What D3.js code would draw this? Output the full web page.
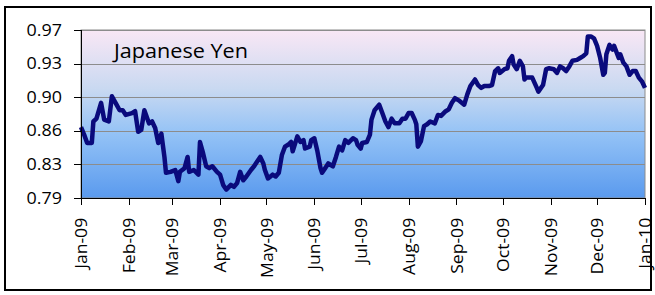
<html>
<script src="https://d3js.org/d3.v7.min.js"></script>
<style>
body { margin: 0; background: #fff; }
.grid line { stroke: #8c8c8c; stroke-width: 1px; shape-rendering: crispEdges; }
.grid path { stroke-width: 0; }
.axis text { font-family: "Open Sans"; font-size: 16px; fill: #000; }
.axis path, .axis line { stroke: #000; shape-rendering: crispEdges; }
.line { fill: none; stroke: #0a0a7c; stroke-width: 4.5px; stroke-linejoin: round; }
</style>
<body>
<div id="chart"></div>
<script>

// the data
var dates = [
  "2009-01-01","2009-01-03","2009-01-05","2009-01-08","2009-01-09","2009-01-11","2009-01-14","2009-01-16","2009-01-19","2009-01-21",
  "2009-01-24","2009-01-26","2009-01-28","2009-01-30","2009-02-03","2009-02-05","2009-02-07","2009-02-09","2009-02-11","2009-02-14",
  "2009-02-16","2009-02-18","2009-02-20","2009-02-22","2009-02-24","2009-02-25","2009-02-28","2009-03-03","2009-03-05","2009-03-06",
  "2009-03-09","2009-03-11","2009-03-12","2009-03-15","2009-03-18","2009-03-19","2009-03-21","2009-03-23","2009-03-25","2009-03-27",
  "2009-03-30","2009-04-01","2009-04-03","2009-04-05","2009-04-08","2009-04-10","2009-04-12","2009-04-14","2009-04-16","2009-04-18",
  "2009-04-21","2009-04-23","2009-04-25","2009-04-27","2009-04-29","2009-04-30","2009-05-02","2009-05-05","2009-05-07","2009-05-09",
  "2009-05-11","2009-05-13","2009-05-15","2009-05-17","2009-05-18","2009-05-21","2009-05-23","2009-05-25","2009-05-26","2009-05-29",
  "2009-05-30","2009-06-01","2009-06-03","2009-06-05","2009-06-06","2009-06-08","2009-06-10","2009-06-13","2009-06-15","2009-06-17",
  "2009-06-19","2009-06-21","2009-06-23","2009-06-26","2009-06-28","2009-06-29","2009-07-01","2009-07-02","2009-07-05","2009-07-07",
  "2009-07-08","2009-07-10","2009-07-13","2009-07-15","2009-07-17","2009-07-19","2009-07-21","2009-07-23","2009-07-26","2009-07-28",
  "2009-07-30","2009-08-01","2009-08-03","2009-08-05","2009-08-06","2009-08-07","2009-08-09","2009-08-11","2009-08-13","2009-08-15",
  "2009-08-18","2009-08-20","2009-08-22","2009-08-25","2009-08-27","2009-08-29","2009-08-31","2009-09-03","2009-09-06","2009-09-08",
  "2009-09-10","2009-09-13","2009-09-15","2009-09-17","2009-09-19","2009-09-22","2009-09-24","2009-09-26","2009-09-28","2009-09-29",
  "2009-10-02","2009-10-04","2009-10-05","2009-10-07","2009-10-08","2009-10-10","2009-10-12","2009-10-14","2009-10-15","2009-10-16",
  "2009-10-18","2009-10-20","2009-10-23","2009-10-24","2009-10-27","2009-10-29","2009-10-31","2009-11-03","2009-11-05","2009-11-07",
  "2009-11-09","2009-11-11","2009-11-13","2009-11-15","2009-11-18","2009-11-20","2009-11-22","2009-11-24","2009-11-25","2009-11-27",
  "2009-11-29","2009-12-01","2009-12-03","2009-12-05","2009-12-06","2009-12-07","2009-12-09","2009-12-11","2009-12-12","2009-12-15",
  "2009-12-16","2009-12-18","2009-12-20","2009-12-22","2009-12-24","2009-12-26","2009-12-28","2009-12-30","2010-01-01"
];
var yen = [
  0.866,0.858,0.849,0.849,0.872,0.875,0.892,0.874,0.872,0.899,
  0.890,0.884,0.884,0.879,0.881,0.883,0.861,0.863,0.884,0.870,
  0.872,0.865,0.849,0.859,0.834,0.817,0.818,0.820,0.808,0.818,
  0.822,0.834,0.818,0.820,0.815,0.850,0.838,0.824,0.822,0.824,
  0.818,0.815,0.804,0.799,0.804,0.802,0.806,0.818,0.809,0.813,
  0.820,0.824,0.829,0.834,0.827,0.820,0.811,0.815,0.813,0.817,
  0.836,0.845,0.847,0.850,0.840,0.856,0.850,0.852,0.843,0.845,
  0.852,0.854,0.840,0.822,0.817,0.822,0.827,0.824,0.834,0.845,
  0.841,0.852,0.849,0.854,0.852,0.847,0.843,0.849,0.850,0.858,
  0.874,0.884,0.890,0.881,0.872,0.866,0.875,0.870,0.870,0.875,
  0.875,0.881,0.881,0.874,0.869,0.845,0.851,0.867,0.869,0.872,
  0.870,0.879,0.878,0.883,0.885,0.892,0.897,0.894,0.890,0.901,
  0.910,0.917,0.911,0.908,0.910,0.910,0.911,0.926,0.929,0.924,
  0.928,0.929,0.937,0.942,0.933,0.928,0.937,0.931,0.917,0.919,
  0.919,0.919,0.908,0.904,0.911,0.928,0.929,0.928,0.924,0.931,
  0.929,0.926,0.931,0.937,0.938,0.940,0.942,0.945,0.963,0.963,
  0.961,0.953,0.940,0.922,0.924,0.944,0.954,0.949,0.953,0.940,
  0.944,0.935,0.931,0.922,0.926,0.926,0.919,0.915,0.908
];
var yTicks = [0.79, 0.826, 0.862, 0.898, 0.934, 0.97];
var yTickLabels = ["0.79", "0.83", "0.86", "0.90", "0.93", "0.97"];
var xStart = "2009-01-01", xEnd = "2010-01-01";
var title = "Japanese Yen";

// set the dimensions of the graph
var W = 655, H = 295;
var plotLeft = 81, plotRight = 645, plotTop = 30, plotBottom = 198;

var parseTime = d3.timeParse("%Y-%m-%d");
var data = dates.map(function(d, i) { return {date: parseTime(d), v: yen[i]}; });

// set the ranges
var x = d3.scaleTime().domain([parseTime(xStart), parseTime(xEnd)]).range([plotLeft, plotRight]);
var y = d3.scaleLinear().domain([yTicks[0], yTicks[yTicks.length - 1]]).range([plotBottom, plotTop]);

var svg = d3.select("#chart").append("svg")
  .attr("width", W)
  .attr("height", H);

// background gradient of the plot area
var grad = svg.append("defs").append("linearGradient")
  .attr("id", "bg").attr("x1", 0).attr("y1", 0).attr("x2", 0).attr("y2", 1);
grad.append("stop").attr("offset", "0%").attr("stop-color", "#f9e7f5");
grad.append("stop").attr("offset", "35%").attr("stop-color", "#c9d9f1");
grad.append("stop").attr("offset", "62%").attr("stop-color", "#93c2f6");
grad.append("stop").attr("offset", "100%").attr("stop-color", "#5a9aee");

// outer frame
svg.append("rect")
  .attr("x", 5).attr("y", 7)
  .attr("width", 646).attr("height", 283)
  .attr("fill", "#fff")
  .attr("stroke", "#000")
  .attr("stroke-width", 2);

svg.append("rect")
  .attr("x", plotLeft).attr("y", plotTop)
  .attr("width", plotRight - plotLeft).attr("height", plotBottom - plotTop)
  .attr("fill", "url(#bg)")
  .attr("stroke", "#8c8c8c")
  .attr("stroke-width", 1);

// horizontal grid lines
svg.append("g")
  .attr("class", "grid")
  .attr("transform", "translate(" + plotLeft + ",0)")
  .call(d3.axisLeft(y).tickValues(yTicks).tickSize(-(plotRight - plotLeft)).tickFormat(""));

// the line
var valueline = d3.line()
  .x(function(d) { return x(d.date); })
  .y(function(d) { return y(d.v); });

svg.append("path")
  .datum(data)
  .attr("class", "line")
  .attr("d", valueline);

// Y axis
var yAxis = svg.append("g")
  .attr("class", "axis")
  .attr("transform", "translate(" + plotLeft + ",0)")
  .call(d3.axisLeft(y).tickValues(yTicks).tickSize(7).tickPadding(10)
    .tickFormat(function(d, i) { return yTickLabels[i]; }));
yAxis.selectAll("text").attr("transform", "scale(1.12,1)");

// X axis
var xAxis = svg.append("g")
  .attr("class", "axis")
  .attr("transform", "translate(0," + plotBottom + ")")
  .call(d3.axisBottom(x).ticks(d3.timeMonth.every(1)).tickSize(7)
    .tickFormat(d3.timeFormat("%b-%y")));
xAxis.selectAll("text")
  .attr("text-anchor", "end")
  .attr("transform", "rotate(-90) scale(1.1,1)")
  .attr("x", -18)
  .attr("y", 0)
  .attr("dy", "0.35em");

// title inside the plot
svg.append("text")
  .attr("x", 114)
  .attr("y", 58)
  .attr("textLength", 134)
  .attr("lengthAdjust", "spacingAndGlyphs")
  .style("font", "20px 'Open Sans'")
  .text(title);

</script>
</body>
</html>
